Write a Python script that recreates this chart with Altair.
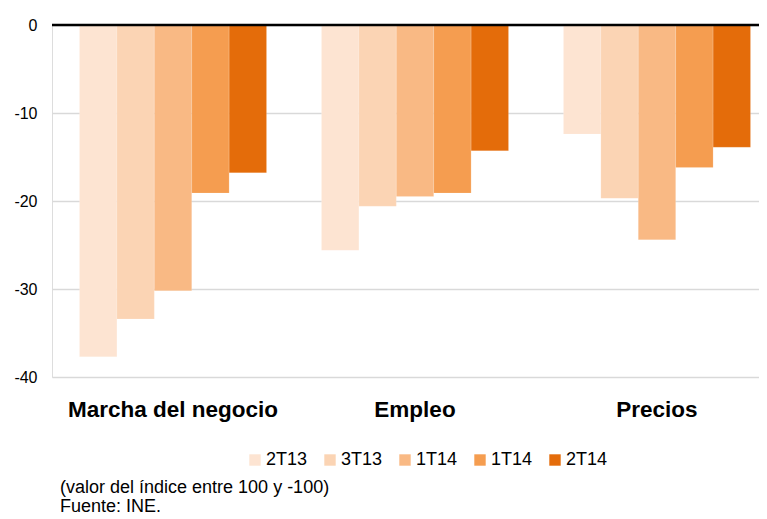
import altair as alt
import pandas as pd

categories = ["Marcha del negocio", "Empleo", "Precios"]
series = ["2T13", "3T13", "1T14", "1T14", "2T14"]
colors = ["#fde4d2", "#fbd4b4", "#f9b984", "#f59d50", "#e46c0a"]
values = {
    "Marcha del negocio": [-37.7, -33.4, -30.2, -19.1, -16.8],
    "Empleo": [-25.6, -20.6, -19.5, -19.1, -14.3],
    "Precios": [-12.4, -19.7, -24.4, -16.2, -13.9],
}
y_ticks = [0, -10, -20, -30, -40]
footer = "(valor del índice entre 100 y -100)\nFuente: INE."

keys = [f"{i}_{s}" for i, s in enumerate(series)]
rows = []
for c in categories:
    for k, v in zip(keys, values[c]):
        rows.append({"cat": c, "serie": k, "val": v})
df = pd.DataFrame(rows)

FONT = "Liberation Sans"

bars = alt.Chart(df).mark_bar(stroke="white", strokeWidth=0.3, strokeOpacity=0.5).encode(
    x=alt.X("cat:N", sort=categories, title=None,
            scale=alt.Scale(paddingInner=0.227, paddingOuter=0.1136),
            axis=alt.Axis(labelAngle=0, labelFontSize=22.5, labelFontWeight="bold",
                          labelColor="black", labelFont=FONT, ticks=False, domain=False,
                          labelPadding=21, labelLimit=400, grid=False)),
    xOffset=alt.XOffset("serie:N", sort=keys),
    y=alt.Y("val:Q", title=None, scale=alt.Scale(domain=[-40, 0], nice=False),
            axis=alt.Axis(values=y_ticks, labelFontSize=16, labelColor="black", labelFont=FONT,
                          labelExpr="'' + datum.value",
                          ticks=False, domain=False, labelPadding=15,
                          gridColor="#d9d9d9", gridWidth=1.5)),
    color=alt.Color("serie:N", sort=keys,
                    scale=alt.Scale(domain=keys, range=colors),
                    legend=alt.Legend(title=None, orient="none", direction="horizontal",
                                      legendX=194, legendY=426,
                                      symbolType="square", symbolSize=130,
                                      symbolStrokeWidth=0,
                                      labelFontSize=18, labelFont=FONT, labelColor="black",
                                      labelOffset=2, columnPadding=13,
                                      labelExpr="split(datum.label, '_')[1]")),
)

zero = alt.Chart(pd.DataFrame({"y": [0]})).mark_rule(color="black", strokeWidth=2.5).encode(
    y="y:Q"
)

foot = alt.Chart(pd.DataFrame({"t": [footer]})).mark_text(
    align="left", baseline="alphabetic", fontSize=18, font=FONT, color="black",
    lineBreak="\n", lineHeight=19
).encode(text="t:N", x=alt.value(8), y=alt.value(468))

chart = alt.layer(bars, zero, foot).properties(
    width=726, height=352,
    autosize=alt.AutoSizeParams(type="none"),
    padding={"left": 44, "top": 17, "right": -19, "bottom": 141},
).configure_view(stroke=None).configure(background="white")

chart.save("out.html", embed_options={"renderer": "svg", "actions": False})
